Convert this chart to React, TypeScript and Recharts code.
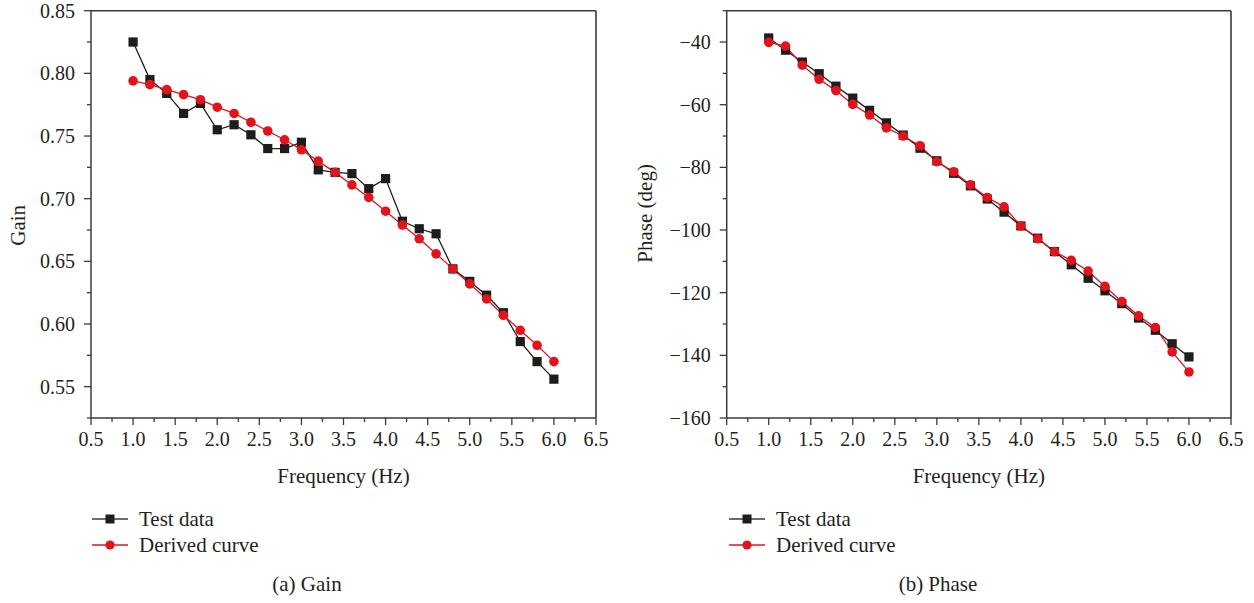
import React from 'react';
import { LineChart, Line, XAxis, YAxis, ReferenceLine } from 'recharts';

const freq = [1.0, 1.2, 1.4, 1.6, 1.8, 2.0, 2.2, 2.4, 2.6, 2.8, 3.0, 3.2, 3.4, 3.6, 3.8, 4.0, 4.2, 4.4, 4.6, 4.8, 5.0, 5.2, 5.4, 5.6, 5.8, 6.0];
const gainTest = [0.825, 0.795, 0.784, 0.768, 0.776, 0.755, 0.759, 0.751, 0.740, 0.740, 0.745, 0.723, 0.721, 0.720, 0.708, 0.716, 0.682, 0.676, 0.672, 0.644, 0.634, 0.623, 0.609, 0.586, 0.570, 0.556];
const gainDerived = [0.794, 0.791, 0.787, 0.783, 0.779, 0.773, 0.768, 0.761, 0.754, 0.747, 0.739, 0.730, 0.721, 0.711, 0.701, 0.690, 0.679, 0.668, 0.656, 0.644, 0.632, 0.620, 0.607, 0.595, 0.583, 0.570];
const phaseTest = [-38.7, -42.6, -46.4, -50.1, -54.1, -57.9, -61.8, -65.8, -69.7, -73.9, -77.9, -81.9, -85.9, -90.1, -94.3, -98.7, -102.6, -106.9, -111.1, -115.4, -119.4, -123.5, -128.1, -132.0, -136.3, -140.5];
const phaseDerived = [-40.1, -41.3, -47.4, -51.9, -55.5, -59.9, -63.3, -67.4, -70.0, -73.1, -78.2, -81.4, -85.6, -89.6, -92.6, -98.7, -102.8, -106.9, -109.7, -113.1, -118.0, -122.8, -127.4, -131.1, -138.9, -145.3];

const xTicks = [0.5, 0.75, 1.0, 1.25, 1.5, 1.75, 2.0, 2.25, 2.5, 2.75, 3.0, 3.25, 3.5, 3.75, 4.0, 4.25, 4.5, 4.75, 5.0, 5.25, 5.5, 5.75, 6.0, 6.25, 6.5];
const gainTicks = [0.525, 0.55, 0.575, 0.6, 0.625, 0.65, 0.675, 0.7, 0.725, 0.75, 0.775, 0.8, 0.825, 0.85];
const phaseTicks = [-160, -150, -140, -130, -120, -110, -100, -90, -80, -70, -60, -50, -40, -30];

const legendLabels = ['Test data', 'Derived curve'];
const captions = ['(a) Gain', '(b) Phase'];

const gainData = freq.map((f, i) => ({ f, test: gainTest[i], derived: gainDerived[i] }));
const phaseData = freq.map((f, i) => ({ f, test: phaseTest[i], derived: phaseDerived[i] }));

const FONT = '"Liberation Serif", "Times New Roman", serif';
const TEXT = '#231f20';
const AXIS = '#3a3a3a';
const BLACK = '#1d1d1b';
const RED = '#e3131c';
const FS = 20;
const FS_T = 21;

const CH_W = 627;
const CH_H = 500;
const M_TOP = 10.7;
const M_BOTTOM = 20;
const X_AXIS_H = 62;

const isMajor = (v: number, step: number) => Math.abs(v / step - Math.round(v / step)) < 1e-6;

const makeXTick = () => (props: any) => {
  const { x, y, payload } = props;
  const major = isMajor(payload.value, 0.5);
  return (
    <g>
      <line x1={x} x2={x} y1={y} y2={y + (major ? 7 : 4)} stroke={AXIS} strokeWidth={1.3} />
      {major && (
        <text x={x} y={y + 28} textAnchor="middle" fontFamily={FONT} fontSize={FS} fill={TEXT}>
          {Number(payload.value).toFixed(1)}
        </text>
      )}
    </g>
  );
};

const makeYTick = (step: number, fmt: (v: number) => string) => (props: any) => {
  const { x, y, payload } = props;
  const major = isMajor(payload.value, step);
  return (
    <g>
      <line x1={x} x2={x - (major ? 7 : 4)} y1={y} y2={y} stroke={AXIS} strokeWidth={1.3} />
      {major && (
        <text x={x - 16} y={y + 7} textAnchor="end" fontFamily={FONT} fontSize={FS} fill={TEXT}>
          {fmt(payload.value)}
        </text>
      )}
    </g>
  );
};

const SquareDot = (props: any) => {
  const { cx, cy, index } = props;
  if (cx == null || cy == null) return <g key={`s${index}`} />;
  return <rect key={`s${index}`} x={cx - 4.6} y={cy - 4.6} width={9.2} height={9.2} fill={BLACK} />;
};

const CircleDot = (props: any) => {
  const { cx, cy, index } = props;
  if (cx == null || cy == null) return <g key={`c${index}`} />;
  return <circle key={`c${index}`} cx={cx} cy={cy} r={4.8} fill={RED} />;
};

const xLabel = (p: any) => {
  const vb = p.viewBox;
  return (
    <text x={vb.x + vb.width / 2} y={vb.y + 65} textAnchor="middle" fontFamily={FONT} fontSize={FS_T} fill={TEXT}>
      Frequency (Hz)
    </text>
  );
};

const yLabel = (text: string, dx: number, dy: number) => (p: any) => {
  const vb = p.viewBox;
  const cx = dx;
  const cy = vb.y + vb.height / 2 + dy;
  return (
    <text x={cx} y={cy} transform={`rotate(-90 ${cx} ${cy})`} textAnchor="middle" dominantBaseline="central" fontFamily={FONT} fontSize={FS_T} fill={TEXT}>
      {text}
    </text>
  );
};

type PanelProps = {
  data: any[];
  yDomain: [number, number];
  yTicks: number[];
  yStep: number;
  yFmt: (v: number) => string;
  yTitle: string;
  yTitleDy: number;
  yAxisWidth: number;
  marginRight: number;
};

const Panel = ({ data, yDomain, yTicks, yStep, yFmt, yTitle, yTitleDy, yAxisWidth, marginRight }: PanelProps) => (
  <div style={{ position: 'relative', width: CH_W, height: CH_H }}>
    <LineChart width={CH_W} height={CH_H} data={data} margin={{ top: M_TOP, right: marginRight, left: 0, bottom: M_BOTTOM }}>
      <XAxis
        dataKey="f"
        type="number"
        domain={[0.5, 6.5]}
        ticks={xTicks}
        interval={0}
        height={X_AXIS_H}
        tickSize={0}
        tickMargin={0}
        tickLine={false}
        axisLine={{ stroke: AXIS, strokeWidth: 1.5 }}
        tick={makeXTick()}
        label={{ content: xLabel }}
      />
      <YAxis
        type="number"
        domain={yDomain}
        ticks={yTicks}
        interval={0}
        width={yAxisWidth}
        tickSize={0}
        tickMargin={0}
        tickLine={false}
        allowDataOverflow
        axisLine={{ stroke: AXIS, strokeWidth: 1.5 }}
        tick={makeYTick(yStep, yFmt)}
        label={{ content: yLabel(yTitle, 18, yTitleDy) }}
      />
      <ReferenceLine y={yDomain[1]} stroke={AXIS} strokeWidth={1.6} ifOverflow="visible" />
      <ReferenceLine x={6.5} stroke={AXIS} strokeWidth={1.6} ifOverflow="visible" />
      <Line type="linear" dataKey="test" stroke={BLACK} strokeWidth={1.3} dot={SquareDot} activeDot={false} isAnimationActive={false} />
      <Line type="linear" dataKey="derived" stroke={RED} strokeWidth={1.3} dot={CircleDot} activeDot={false} isAnimationActive={false} />
    </LineChart>
  </div>
);

const LegendBlock = ({ left }: { left: number }) => (
  <div style={{ position: 'absolute', left, top: 506, width: 300, height: 60 }}>
    {legendLabels.map((lab, i) => (
      <div key={lab} style={{ position: 'absolute', left: 0, top: i * 25.5, height: 26, display: 'flex', alignItems: 'center' }}>
        <svg width={36} height={26} style={{ display: 'block' }}>
          <line x1={0} x2={36} y1={13} y2={13} stroke={i === 0 ? '#3d3d3d' : RED} strokeWidth={1.6} />
          {i === 0 ? <rect x={13.5} y={8.5} width={9} height={9} fill={BLACK} /> : <circle cx={18} cy={13} r={4.6} fill={RED} />}
        </svg>
        <span style={{ marginLeft: 11, fontFamily: FONT, fontSize: FS_T, color: TEXT, lineHeight: '26px', whiteSpace: 'nowrap' }}>{lab}</span>
      </div>
    ))}
  </div>
);

export default function App() {
  return (
    <div style={{ position: 'absolute', left: 0, top: 0, width: 1254, height: 603, background: '#fff', overflow: 'hidden' }}>
      <div style={{ position: 'absolute', left: 0, top: 0 }}>
        <Panel
          data={gainData}
          yDomain={[0.525, 0.85]}
          yTicks={gainTicks}
          yStep={0.05}
          yFmt={(v) => v.toFixed(2)}
          yTitle="Gain"
          yTitleDy={11}
          yAxisWidth={91}
          marginRight={31}
        />
      </div>
      <div style={{ position: 'absolute', left: 627, top: 0 }}>
        <Panel
          data={phaseData}
          yDomain={[-160, -30]}
          yTicks={phaseTicks}
          yStep={20}
          yFmt={(v) => (v < 0 ? '\u2212' + Math.abs(v) : String(v))}
          yTitle="Phase (deg)"
          yTitleDy={-1}
          yAxisWidth={99.7}
          marginRight={23}
        />
      </div>
      <LegendBlock left={92} />
      <LegendBlock left={729} />
      <div style={{ position: 'absolute', left: 307, top: 584, transform: 'translate(-50%, -50%)', fontFamily: FONT, fontSize: FS_T, color: TEXT, whiteSpace: 'nowrap' }}>{captions[0]}</div>
      <div style={{ position: 'absolute', left: 938, top: 584, transform: 'translate(-50%, -50%)', fontFamily: FONT, fontSize: FS_T, color: TEXT, whiteSpace: 'nowrap' }}>{captions[1]}</div>
    </div>
  );
}
